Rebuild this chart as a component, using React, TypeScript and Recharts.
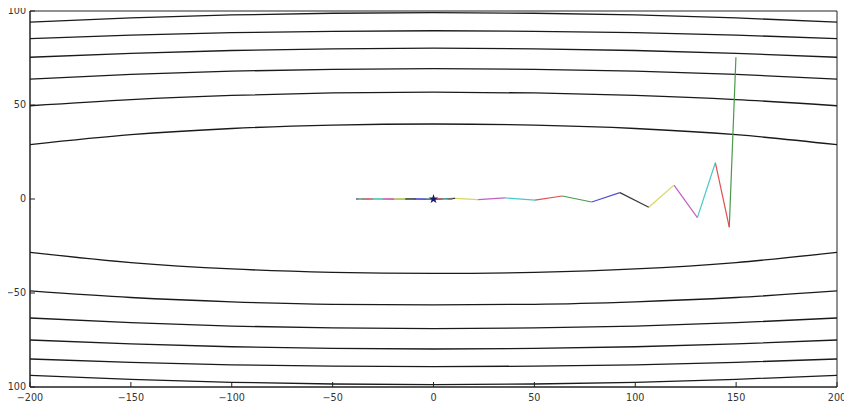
import React from 'react';
import {
  ComposedChart,
  Line,
  Scatter,
  XAxis,
  YAxis,
  ZAxis,
  ReferenceArea,
} from 'recharts';

const contourX = [-200, -150, -100, -50, 0, 50, 100, 150, 200];

// upper halves of the level curves (inner -> outer)
const upper1 = [28.9, 34.2, 37.5, 39.3, 39.9, 39.3, 37.5, 34.2, 28.9];
const upper2 = [49.6, 52.9, 55.1, 56.4, 56.8, 56.4, 55.1, 52.9, 49.6];
const upper3 = [63.8, 66.3, 68.0, 69.0, 69.3, 69.0, 68.0, 66.3, 63.8];
const upper4 = [75.4, 77.5, 79.0, 79.9, 80.2, 79.9, 79.0, 77.5, 75.4];
const upper5 = [85.3, 87.2, 88.5, 89.2, 89.5, 89.2, 88.5, 87.2, 85.3];
const upper6 = [94.1, 96.3, 97.9, 98.8, 99.1, 98.8, 97.9, 96.3, 94.1];

// lower halves
const lower1 = [-28.4, -33.8, -37.2, -39.0, -39.6, -39.0, -37.2, -33.8, -28.4];
const lower2 = [-48.9, -52.4, -54.7, -56.0, -56.3, -56.0, -54.7, -52.4, -48.9];
const lower3 = [-63.3, -65.8, -67.6, -68.6, -68.9, -68.6, -67.6, -65.8, -63.3];
const lower4 = [-75.0, -77.1, -78.6, -79.5, -79.8, -79.5, -78.6, -77.1, -75.0];
const lower5 = [-85.1, -86.9, -88.2, -88.9, -89.2, -88.9, -88.2, -86.9, -85.1];
const lower6 = [-93.8, -95.9, -97.5, -98.4, -98.7, -98.4, -97.5, -95.9, -93.8];

// optimisation path, starting at the top right
const pathX = [149.9, 146.6, 139.7, 130.8, 119.2, 106.7, 92.4, 78.4, 63.8, 50.3, 35.4, 22.1, 10.7,
  -0.5, -10.5, -19, -26, -31.5, -35.5, -37.8, -38.3, -37, -34, -30, -25, -19.5, -14, -8.5, -3.5,
  1, 4.5, 7, 8.6, 9.4, 9.3, 8.4, 7];
const pathY = [75.4, -15, 19.3, -9.9, 7.4, -4.4, 3.4, -1.6, 1.6, -0.6, 0.6, -0.3, 0.3,
  -0.2, 0.1, -0.1, 0, 0, 0, 0, 0, 0, 0, 0, 0, 0, 0, 0, 0, 0, 0, 0, 0, 0, 0, 0, 0];

// matplotlib style colour cycle, first segment is green
const segColors = ['#4a9a4a', '#e05050', '#48c8c8', '#c060c0', '#d6d660', '#3a3a3a', '#5050d0'];

const minimum = [{ x: 0, y: 0 }];

const xTicks = [-200, -150, -100, -50, 0, 50, 100, 150, 200];
const yTicks = [-100, -50, 0, 50, 100];

const contours = [upper1, upper2, upper3, upper4, upper5, upper6, lower1, lower2, lower3, lower4, lower5, lower6];

const fmt = (v: number) => (v < 0 ? '\u2212' + Math.abs(v) : String(v));

const tickStyle = { fontSize: 9.6, fill: '#333', fontFamily: 'DejaVu Sans' };
const axisColor = '#222';
const lineStyle = { stroke: axisColor, strokeWidth: 1 };

export default function App() {
  const contourData = contours.map((ys) => contourX.map((x, i) => ({ x, y: ys[i] })));
  const segments = pathX.slice(1).map((_, i) => [
    { x: pathX[i], y: pathY[i] },
    { x: pathX[i + 1], y: pathY[i + 1] },
  ]);

  return (
    <div style={{ margin: -8 }}>
      <ComposedChart
        width={852}
        height={414}
        margin={{ top: 11, right: 15, left: 0, bottom: 1 }}
        style={{ background: '#fff' }}
      >
        <XAxis
          dataKey="x"
          type="number"
          domain={[-200, 200]}
          ticks={xTicks}
          tickFormatter={fmt}
          allowDataOverflow
          height={26}
          tick={tickStyle}
          tickSize={-5}
          tickMargin={12}
          axisLine={lineStyle}
          tickLine={lineStyle}
        />
        <XAxis
          xAxisId="top"
          orientation="top"
          dataKey="x"
          type="number"
          domain={[-200, 200]}
          ticks={xTicks}
          allowDataOverflow
          height={0}
          tick={false}
          tickSize={-5}
          axisLine={lineStyle}
          tickLine={lineStyle}
        />
        <YAxis
          dataKey="y"
          type="number"
          domain={[-100, 100]}
          ticks={yTicks}
          tickFormatter={fmt}
          allowDataOverflow
          width={30}
          tick={tickStyle}
          tickSize={-5}
          tickMargin={9}
          axisLine={lineStyle}
          tickLine={lineStyle}
        />
        <YAxis
          yAxisId="right"
          orientation="right"
          dataKey="y"
          type="number"
          domain={[-100, 100]}
          ticks={yTicks}
          allowDataOverflow
          width={0}
          tick={false}
          tickSize={-5}
          axisLine={lineStyle}
          tickLine={lineStyle}
        />
        <ZAxis range={[28, 28]} />
        <ZAxis zAxisId="star" range={[28, 28]} />
        {contourData.map((d, i) => (
          <Line
            key={'c' + i}
            data={d}
            dataKey="y"
            type="monotone"
            stroke="#1a1a1a"
            strokeWidth={1.3}
            dot={false}
            isAnimationActive={false}
          />
        ))}
        {segments.map((d, i) => (
          <Line
            key={'s' + i}
            data={d}
            dataKey="y"
            type="linear"
            stroke={segColors[i % segColors.length]}
            strokeWidth={1.2}
            dot={false}
            isAnimationActive={false}
          />
        ))}
        <Scatter
          data={minimum}
          dataKey="y"
          xAxisId="top"
          yAxisId="right"
          zAxisId="star"
          shape="star"
          fill="#1a1a6e"
          isAnimationActive={false}
        />
        <ReferenceArea
          x1={-200}
          x2={200}
          y1={-100}
          y2={100}
          fill="none"
          stroke={axisColor}
          strokeWidth={1}
          fillOpacity={0}
          ifOverflow="visible"
        />
      </ComposedChart>
    </div>
  );
}
